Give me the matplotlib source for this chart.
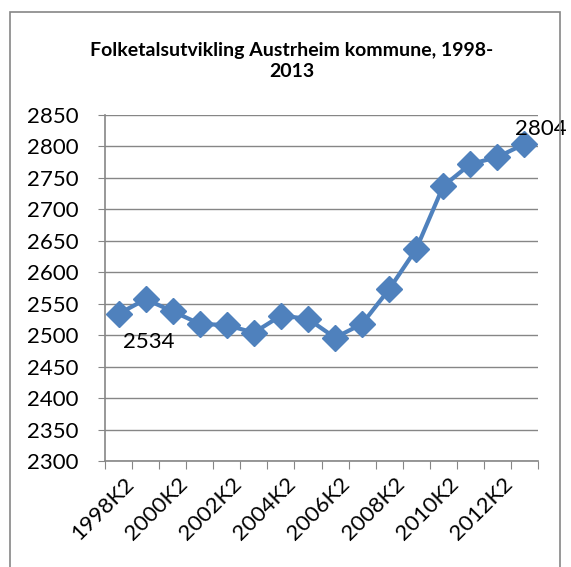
import matplotlib
matplotlib.use('Agg')
import matplotlib.pyplot as plt
import matplotlib.transforms as mtransforms
from matplotlib.patches import Rectangle

plt.rcParams['font.family'] = ['Lato', 'DejaVu Sans']

# Data
periods = ['1998K2', '1999K2', '2000K2', '2001K2', '2002K2', '2003K2', '2004K2', '2005K2',
           '2006K2', '2007K2', '2008K2', '2009K2', '2010K2', '2011K2', '2012K2', '2013K2']
population = [2534, 2557, 2538, 2518, 2516, 2504, 2531, 2526,
              2496, 2518, 2573, 2637, 2737, 2772, 2783, 2804]
title = 'Folketalsutvikling Austrheim kommune, 1998-\n2013'

blue = '#4F81BD'
grey = '#868686'

fig = plt.figure(figsize=(5.71, 5.67), dpi=100)
ax = fig.add_axes([105/571, 1 - 461/567, 433/571, 346/567])

# outer chart border
fig.patches.append(Rectangle((10/571, -0.05), 550/571, 1.05 - 12/567, transform=fig.transFigure,
                             fill=False, edgecolor=grey, linewidth=1.2))

x = list(range(len(periods)))
ax.plot(x, population, color=blue, linewidth=3, marker='D', markersize=13,
        markerfacecolor=blue, markeredgecolor=blue, zorder=3, clip_on=False)

ax.set_xlim(-0.5, len(periods) - 0.5)
ax.set_ylim(2300, 2850)
ax.set_yticks(range(2300, 2851, 50))
ax.grid(axis='y', color=grey, linewidth=1)
ax.set_axisbelow(True)

for s in ['top', 'right']:
    ax.spines[s].set_visible(False)
for s in ['left', 'bottom']:
    ax.spines[s].set_color(grey)
    ax.spines[s].set_linewidth(1.2)

ax.tick_params(axis='y', length=5, color=grey, labelsize=16, pad=14)
# tick marks at category boundaries, labels at every other category
ax.set_xticks([i - 0.5 for i in range(len(periods) + 1)])
ax.set_xticklabels([])
ax.tick_params(axis='x', which='major', length=6, color=grey)
ax.set_xticks(x[::2], minor=True)
ax.set_xticklabels(periods[::2], minor=True, rotation=45, ha='right', rotation_mode='anchor',
                   fontsize=16)
ax.tick_params(axis='x', which='minor', length=0, pad=9)
offset = mtransforms.ScaledTranslation(5/100, 0, fig.dpi_scale_trans)
for lab in ax.get_xticklabels(minor=True):
    lab.set_transform(lab.get_transform() + offset)

ax.annotate(str(population[0]), (x[0], population[0]), xytext=(30, -28), textcoords='offset pixels',
            ha='center', va='center', fontsize=16)
ax.annotate(str(population[-1]), (x[-1], population[-1]), xytext=(16, 15), textcoords='offset pixels',
            ha='center', va='center', fontsize=16)

fig.text(292/571, 1 - 61/567, title, ha='center', va='center', fontsize=14,
         fontweight='bold', linespacing=1.3)

fig.savefig('out.png', dpi=100)
